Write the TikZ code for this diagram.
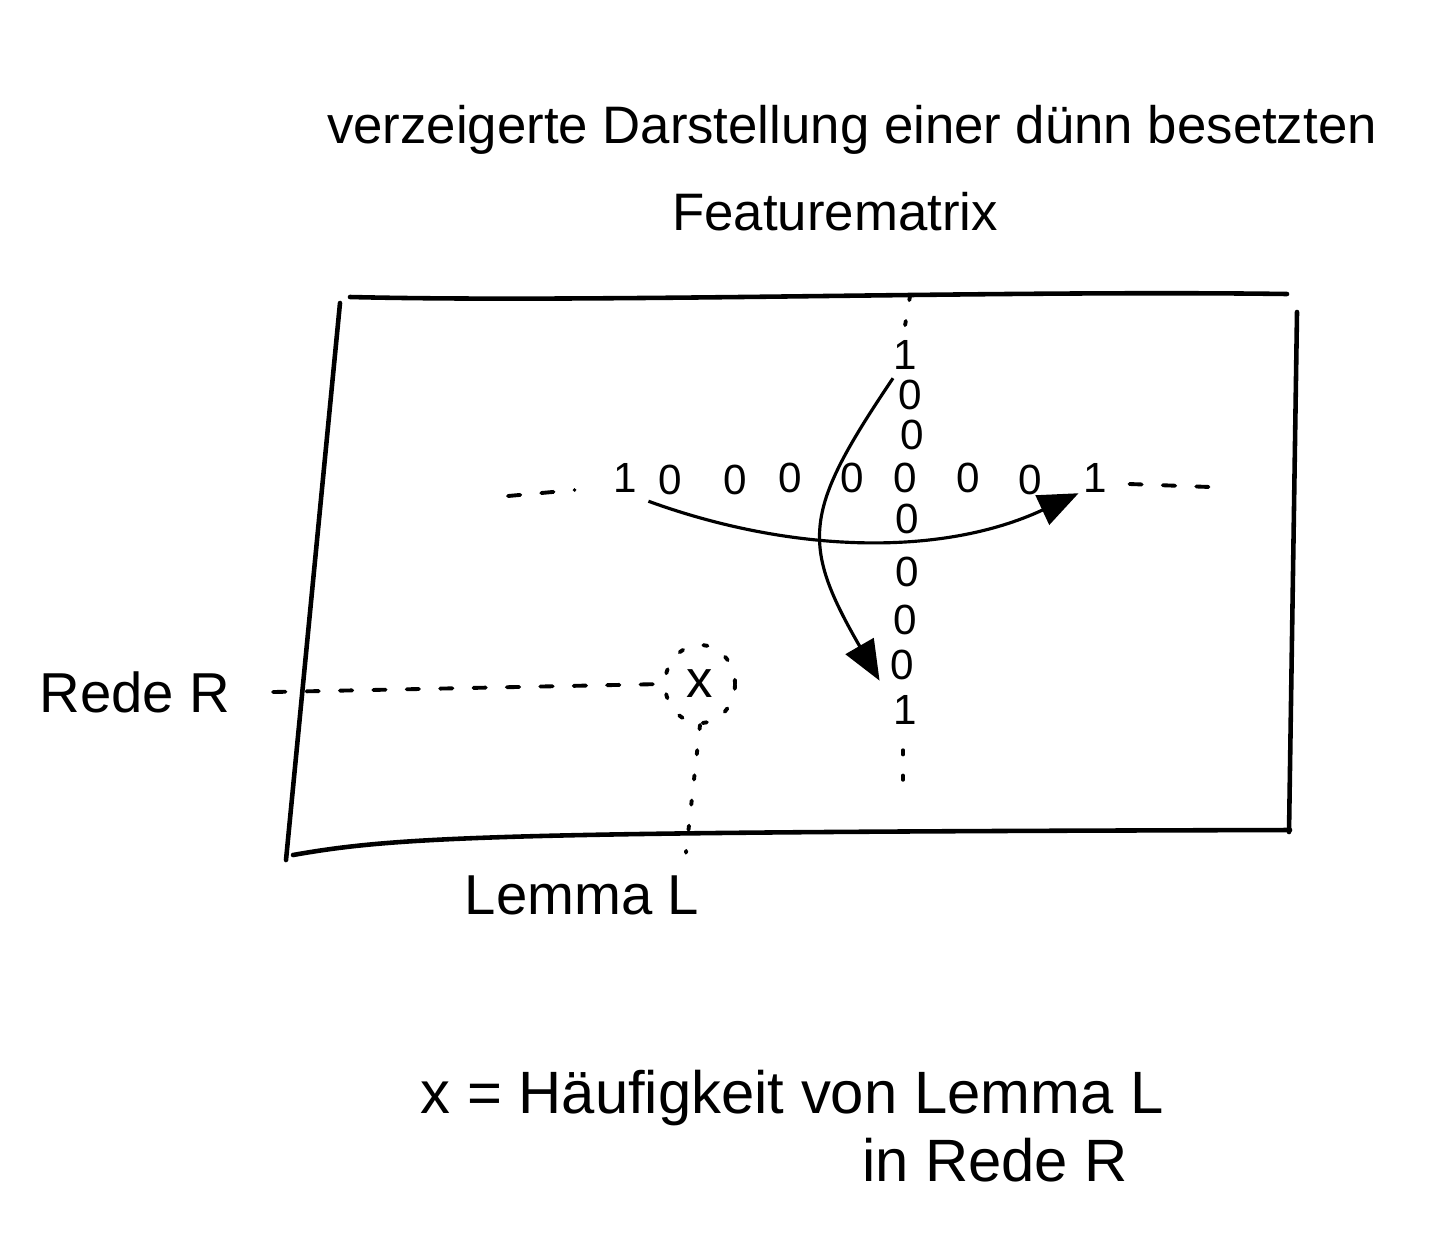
\documentclass[tikz,border=0pt]{standalone}
\usepackage{fontspec}
\setmainfont{Liberation Sans}
\usetikzlibrary{arrows.meta,shapes.geometric}
\begin{document}
\begin{tikzpicture}[x=0.01cm,y=-0.01cm,
  frame/.style={line width=1.3pt, line cap=round, line join=round},
  ptr/.style={line width=0.9pt, -{Triangle[length=0.4cm,width=0.32cm]}},
  dig/.style={font=\fontsize{12}{14}\selectfont, inner sep=0pt},
  lbl/.style={font=\fontsize{16}{19}\selectfont, inner sep=0pt},
  expl/.style={font=\fontsize{17}{20}\selectfont, inner sep=0pt},
  ttl/.style={font=\fontsize{15}{18}\selectfont, inner sep=0pt},
  dots/.style={line width=1.1pt, dash pattern=on 1.2pt off 6pt, line cap=round},
  dashes/.style={line width=1.1pt, dash pattern=on 3.5pt off 6pt, line cap=round}]
\useasboundingbox (0,0) rectangle (1443,1239);

% title
\node[ttl] (t1) at (852,130) {verzeigerte Darstellung einer dünn besetzten};
\node[ttl] (t2) at (835,212) {Featurematrix};

% frame
\draw[frame] (350,297) .. controls (600,303) and (1000,290) .. (1287,294);
\draw[frame] (1297,312) -- (1289,832);
\draw[frame] (340,303) -- (286,860);
\draw[frame] (293,855) .. controls (400,836) and (500,832) .. (1290,830);

% row
\node[dig] (r1) at (625,478) {1};
\node[dig] (r2) at (670,480) {0};
\node[dig] (r3) at (735,480) {0};
\node[dig] (r4) at (790,478) {0};
\node[dig] (r5) at (852,478) {0};
\node[dig] (r6) at (905,478) {0};
\node[dig] (r7) at (968,478) {0};
\node[dig] (r8) at (1030,480) {0};
\node[dig] (r9) at (1095,478) {1};

% column
\node[dig] (c1) at (905,355) {1};
\node[dig] (c2) at (910,395) {0};
\node[dig] (c3) at (912,435) {0};
\node[dig] (c5) at (907,519) {0};
\node[dig] (c6) at (907,572) {0};
\node[dig] (c7) at (905,620) {0};
\node[dig] (c8) at (902,665) {0};
\node[dig] (c9) at (905,710) {1};

% continuation dots
\coordinate (ctop) at (910,296);
\coordinate (cbot) at (903,782);
\coordinate (rl) at (508,496);
\coordinate (rr) at (1210,487);
\draw[dots] (ctop) -- ([shift={(0,-14)}]c1.north);
\draw[dots] ([shift={(-2,25)}]c9.south) -- (cbot);
\draw[dashes] (rl) -- ([shift={(-38,12)}]r1.west);
\draw[dashes] ([shift={(22,6)}]r9.east) -- (rr);

% pointers
\draw[ptr] ([shift={(11,8)}]r1.south east) to[out=-20,in=205,looseness=0.9] ([shift={(-4,0)}]r9.south west);
\draw[ptr] ([shift={(-12,8)}]c1.south) to[out=236,in=120,looseness=1.35] ([shift={(-10,0)}]c8.south west);

% entry x
\node[lbl] (rede) at (135,692) {Rede R};
\node[lbl] (lemma) at (582,895) {Lemma L};
\node[ellipse, draw, dots, minimum width=0.7cm, minimum height=0.78cm, inner sep=0pt, font=\fontsize{15}{18}\selectfont] (xc) at (700,684) {x};
\draw[dashes] ([shift={(42,0)}]rede.east) -- (xc.west);
\draw[dots] (xc.south) -- ([shift={(-14,-22)}]lemma.north east);

% explanation
\node[expl] (e1) at (792,1098) {x = Häufigkeit von Lemma L};
\node[expl] (e2) at (995,1160) {in Rede R};
\end{tikzpicture}
\end{document}
